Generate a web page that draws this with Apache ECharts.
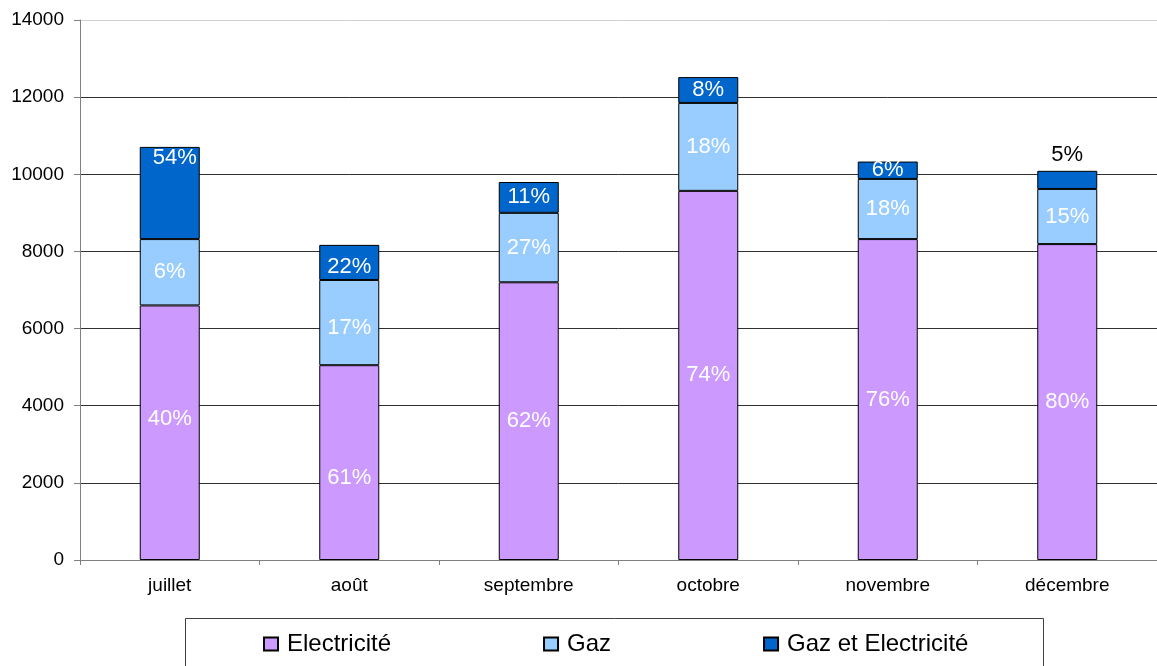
<!DOCTYPE html>
<html>
<head>
<meta charset="utf-8">
<script src="https://cdn.jsdelivr.net/npm/echarts@6/dist/echarts.min.js"></script>
<style>
  html, body { margin: 0; padding: 0; background: #fff; }
  #chart { width: 1157px; height: 666px; }
</style>
</head>
<body>
<div id="chart"></div>
<script>
// Monthly consumption, stacked by energy type
const categories = ['juillet', 'août', 'septembre', 'octobre', 'novembre', 'décembre'];
const electricite = [6600, 5050, 7200, 9570, 8320, 8190];
const gaz = [1720, 2210, 1800, 2280, 1560, 1430];
const gazEtElectricite = [2390, 910, 800, 670, 450, 470];

// Share labels shown on each segment
const electricitePct = ['40%', '61%', '62%', '74%', '76%', '80%'];
const gazPct = ['6%', '17%', '27%', '18%', '18%', '15%'];
const gazEtElectricitePct = ['54%', '22%', '11%', '8%', '6%', '5%'];

const yTicks = { min: 0, max: 14000, interval: 2000 };

const FONT = "'Liberation Sans', Arial, sans-serif";

function withLabels(values, labels, overrides) {
  return values.map((v, i) => {
    const item = { value: v, pct: labels[i] };
    if (overrides && overrides[i]) item.label = overrides[i];
    return item;
  });
}

const baseLabel = {
  show: true,
  position: 'inside',
  color: '#ffffff',
  fontFamily: FONT,
  fontSize: 22,
  formatter: p => p.data.pct
};

const chart = echarts.init(document.getElementById('chart'), null, { renderer: 'canvas' });

chart.setOption({
  animation: false,
  backgroundColor: '#ffffff',
  grid: { left: 80, top: 20, width: 1084, height: 540, containLabel: false },
  xAxis: {
    type: 'category',
    data: categories,
    axisLine: { lineStyle: { color: '#808080', width: 1 } },
    axisTick: { show: true, length: 5, inside: false, alignWithLabel: false, lineStyle: { color: '#808080' } },
    axisLabel: { color: '#000', fontFamily: FONT, fontSize: 19, margin: 16 }
  },
  yAxis: {
    type: 'value',
    min: yTicks.min,
    max: yTicks.max,
    interval: yTicks.interval,
    axisLine: { show: true, lineStyle: { color: '#808080', width: 1 } },
    axisTick: { show: true, length: 6, lineStyle: { color: '#808080' } },
    axisLabel: { color: '#000', fontFamily: FONT, fontSize: 19, margin: 16, formatter: v => String(v) },
    splitLine: {
      show: true,
      lineStyle: {
        color: ['#303030', '#303030', '#303030', '#303030', '#303030', '#303030', '#303030', '#d0d0d0'],
        width: 1
      }
    }
  },
  legend: {
    left: 263,
    top: 632,
    padding: 0,
    itemGap: 152,
    itemWidth: 14,
    itemHeight: 13,
    icon: 'rect',
    textStyle: { color: '#000', fontFamily: FONT, fontSize: 24, padding: [0, 0, 0, 4] },
    data: ['Electricité', 'Gaz', 'Gaz et Electricité']
  },
  graphic: [{
    type: 'rect',
    shape: { x: 185.5, y: 618.5, width: 858, height: 70 },
    style: { fill: 'none', stroke: '#404040', lineWidth: 1 },
    silent: true
  }],
  series: [
    {
      name: 'Electricité',
      type: 'bar',
      stack: 'total',
      barWidth: 60,
      itemStyle: { color: '#CC99FF', borderColor: '#000', borderWidth: 1 },
      label: baseLabel,
      data: withLabels(electricite, electricitePct, {
        0: { offset: [0, -14] },
        1: { offset: [0, 15] }
      })
    },
    {
      name: 'Gaz',
      type: 'bar',
      stack: 'total',
      barWidth: 60,
      itemStyle: { color: '#99CCFF', borderColor: '#000', borderWidth: 1 },
      label: baseLabel,
      data: withLabels(gaz, gazPct, {
        1: { offset: [0, 5] }
      })
    },
    {
      name: 'Gaz et Electricité',
      type: 'bar',
      stack: 'total',
      barWidth: 60,
      itemStyle: { color: '#0066CC', borderColor: '#000', borderWidth: 1 },
      label: baseLabel,
      data: withLabels(gazEtElectricite, gazEtElectricitePct, {
        0: { position: 'insideTop', distance: 0, offset: [5, 0] },
        1: { offset: [0, 5] },
        5: { position: 'top', distance: 5, color: '#000' }
      })
    }
  ]
});
</script>
</body>
</html>
